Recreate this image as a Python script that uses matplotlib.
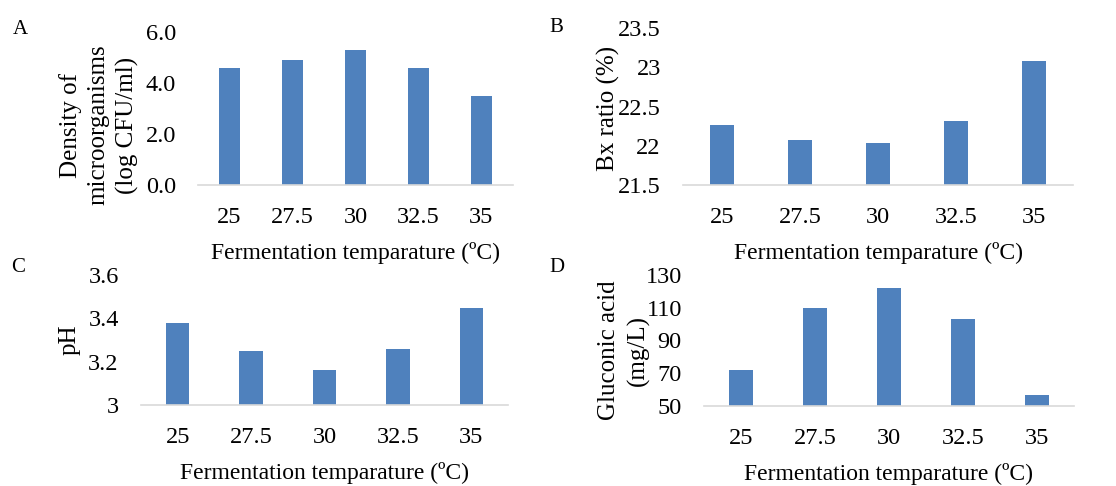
import matplotlib
matplotlib.use("Agg")
import matplotlib.pyplot as plt

plt.rcParams['font.family'] = ['Liberation Serif', 'DejaVu Serif']

temps = ['25', '27.5', '30', '32.5', '35']
density = [4.6, 4.9, 5.3, 4.6, 3.5]
brix = [22.27, 22.07, 22.03, 22.32, 23.08]
ph = [3.38, 3.25, 3.16, 3.26, 3.45]
gluconic = [72, 110, 122, 103, 57]

BAR = '#4F81BD'
W, H = 1116, 486

fig = plt.figure(figsize=(W / 100, H / 100), dpi=100)


def px_axes(left, right, bottom, top):
    # pixel box (from top-left) -> figure fraction
    return fig.add_axes([left / W, 1 - bottom / H, (right - left) / W, (bottom - top) / H])


def panel(ax, values, ylim, yticks, ylabels):
    x = range(len(temps))
    ax.bar(x, [v - ylim[0] for v in values], bottom=ylim[0], width=0.32, color=BAR)
    ax.set_xlim(-0.5, len(temps) - 0.5)
    ax.set_ylim(*ylim)
    ax.set_xticks(list(x))
    ax.set_xticklabels(temps)
    ax.set_yticks(yticks)
    ax.set_yticklabels(ylabels)
    for s in ['top', 'right', 'left']:
        ax.spines[s].set_visible(False)
    ax.spines['bottom'].set_color('#D9D9D9')
    ax.spines['bottom'].set_linewidth(1.2)
    ax.tick_params(axis='both', length=0, labelsize=17.5)
    ax.tick_params(axis='x', pad=16)
    ax.tick_params(axis='y', pad=16)
    ax.set_xlabel('Fermentation temparature (ºC)', fontsize=17, labelpad=10)
    ax.patch.set_visible(False)


axA = px_axes(198, 513, 185, 32)
panel(axA, density, (0, 6), [0, 2, 4, 6], ['0.0', '2.0', '4.0', '6.0'])
axB = px_axes(683, 1073, 185, 28)
panel(axB, brix, (21.5, 23.5), [21.5, 22, 22.5, 23, 23.5], ['21.5', '22', '22.5', '23', '23.5'])
axC = px_axes(141, 508, 405, 275)
panel(axC, ph, (3, 3.6), [3, 3.2, 3.4, 3.6], ['3', '3.2', '3.4', '3.6'])
axD = px_axes(704, 1074, 406, 275)
panel(axD, gluconic, (50, 130), [50, 70, 90, 110, 130], ['50', '70', '90', '110', '130'])

# y labels placed by hand like the original
fig.text(99 / W, 1 - 125 / H, 'Density of\nmicroorganisms\n(log CFU/ml)', rotation=90,
         ha='center', va='center', fontsize=18, linespacing=1.35)
fig.text(608 / W, 1 - 108 / H, 'Bx ratio (%)', rotation=90, ha='center', va='center', fontsize=18)
fig.text(70 / W, 1 - 340 / H, 'pH', rotation=90, ha='center', va='center', fontsize=18)
fig.text(624 / W, 1 - 350 / H, 'Gluconic acid\n(mg/L)', rotation=90, ha='center', va='center',
         fontsize=18, linespacing=1.35)

for lab, (lx, ly) in zip('ABCD', [(20, 29), (556, 27), (18, 267), (557, 267)]):
    fig.text(lx / W, 1 - ly / H, lab, ha='center', va='center', fontsize=15)

fig.savefig('out.png', dpi=100)
